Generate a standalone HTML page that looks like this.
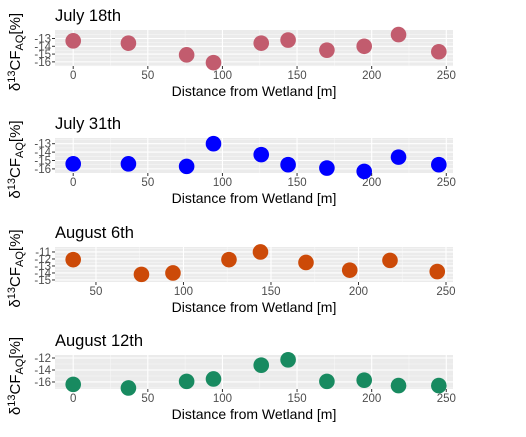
<!DOCTYPE html>
<html><head><meta charset="utf-8"><style>
body{margin:0;background:#fff;font-family:"Liberation Sans",sans-serif;}
svg text{font-family:"Liberation Sans",sans-serif;}
</style></head><body>
<svg id="c" width="526" height="432" xmlns="http://www.w3.org/2000/svg"></svg>
<script>
const titles = ["July 18th","July 31th","August 6th","August 12th"];
const colors = ["#c25c6e","#0000ff","#cc4a08","#188a60"];
const xs1 = [0,37,76,94,126,144,170,195,218,245];
const ys1 = [-13.3,-13.6,-15.1,-16.1,-13.6,-13.2,-14.5,-14.0,-12.5,-14.7];
const xs2 = [0,37,76,94,126,144,170,195,218,245];
const ys2 = [-15.4,-15.4,-15.7,-13.0,-14.3,-15.5,-15.9,-16.3,-14.6,-15.5];
const xs3 = [37,76,94,126,144,170,195,218,245];
const ys3 = [-12.1,-14.2,-14.0,-12.1,-11.0,-12.5,-13.6,-12.2,-13.8];
const xs4 = [0,37,76,94,126,144,170,195,218,245];
const ys4 = [-16.4,-17.0,-15.9,-15.5,-13.2,-12.3,-15.9,-15.7,-16.6,-16.6];
const err4 = [0,0,0,0,1.0,0,0,0,0,0];
const yticks1 = [-13,-14,-15,-16];
const yticks2 = [-13,-14,-15,-16];
const yticks3 = [-11,-12,-13,-14,-15];
const yticks4 = [-12,-14,-16];
const xticks1 = [0,50,100,150,200,250];
const xticks3 = [50,100,150,200,250];
const xdom1 = [-12.2,254.5];
const xdom3 = [26.6,254];
const ydoms = [[-16.53,-11.91],[-16.49,-12.32],[-15.29,-10.29],[-17.17,-11.5]];

const svg=document.getElementById('c');
const NS="http://www.w3.org/2000/svg";
function mk(tag,attrs,parent){const e=document.createElementNS(NS,tag);for(const k in attrs)e.setAttribute(k,attrs[k]);(parent||svg).appendChild(e);return e;}

const panels=[
 {xs:xs1,ys:ys1,yt:yticks1,xt:xticks1,xd:xdom1},
 {xs:xs2,ys:ys2,yt:yticks2,xt:xticks1,xd:xdom1},
 {xs:xs3,ys:ys3,yt:yticks3,xt:xticks3,xd:xdom3},
 {xs:xs4,ys:ys4,yt:yticks4,xt:xticks1,xd:xdom1,err:err4}
];
const tops=[30,138,247,355], bots=[66,173,282,389];
const L=55,R=453;
panels.forEach((p,i)=>{
 const g=mk('g',{});
 
 
 const T=tops[i],B=bots[i],yd=ydoms[i];
 const sx=v=>L+(v-p.xd[0])/(p.xd[1]-p.xd[0])*(R-L);
 const sy=v=>B-(v-yd[0])/(yd[1]-yd[0])*(B-T);
 const bg=mk('rect',{x:L,y:T,width:R-L,height:B-T,fill:'#ebebeb'},g);
 
 
 for(let v=-25;v<=275;v+=50){const x=sx(v);if(x>L&&x<R)mk('line',{x1:x,x2:x,y1:T,y2:B,stroke:'#f7f7f7','stroke-width':0.6},g);}
 for(let k=0;k<p.yt.length-1;k++){const y=sy((p.yt[k]+p.yt[k+1])/2);mk('line',{x1:L,x2:R,y1:y,y2:y,stroke:'#f7f7f7','stroke-width':0.6},g);}
 {const step=p.yt[0]-p.yt[1];const y1=sy(p.yt[0]+step/2),y2=sy(p.yt[p.yt.length-1]-step/2);
  [y1,y2].forEach(y=>{if(y>T&&y<B)mk('line',{x1:L,x2:R,y1:y,y2:y,stroke:'#f7f7f7','stroke-width':0.6},g);});}
 p.xt.forEach(v=>{const x=sx(v);mk('line',{x1:x,x2:x,y1:T,y2:B,stroke:'#fff','stroke-width':1.1},g);
  mk('line',{x1:x,x2:x,y1:B,y2:B+3,stroke:'#333','stroke-width':1},g);
  const t=mk('text',{x:x,y:B+13,'font-size':11.5,fill:'#4d4d4d','text-anchor':'middle'},g);t.textContent=v;
  
  });
 p.yt.forEach(v=>{const y=sy(v);mk('line',{x1:L,x2:R,y1:y,y2:y,stroke:'#fff','stroke-width':1.1},g);
  mk('line',{x1:L-3,x2:L,y1:y,y2:y,stroke:'#333','stroke-width':1},g);
  const t=mk('text',{x:L-4,y:y+4,'font-size':11.5,fill:'#4d4d4d','text-anchor':'end'},g);t.textContent=v;
  
  });
 p.xs.forEach((xv,j)=>{
  const cx=sx(xv),cy=sy(p.ys[j]);
  if(p.err&&p.err[j]>0){mk('line',{x1:cx,x2:cx,y1:sy(p.ys[j]+p.err[j]),y2:sy(p.ys[j]-p.err[j]),stroke:colors[i],'stroke-width':2},g);}
  const c=mk('circle',{cx:cx,cy:cy,r:7.8,fill:colors[i]},g);
  
  
 });
 const tt=mk('text',{x:L,y:T-9,'font-size':16.5,fill:'#000'},g);tt.textContent=titles[i];
 
 
 const xt=mk('text',{x:(L+R)/2,y:B+30,'font-size':14,fill:'#000','text-anchor':'middle'},g);xt.textContent='Distance from Wetland [m]';
 
 
 const cyy=(T+B)/2+4;
 const yt=mk('text',{x:0,y:0,'font-size':15,fill:'#000','text-anchor':'middle',transform:`translate(20,${cyy}) rotate(-90)`},g);
 yt.innerHTML='δ<tspan dy="-5" font-size="11">13</tspan><tspan dy="5">CF</tspan><tspan dy="3" font-size="11">AQ</tspan><tspan dy="-3">[%]</tspan>';
 
 
});
</script>
</body></html>
